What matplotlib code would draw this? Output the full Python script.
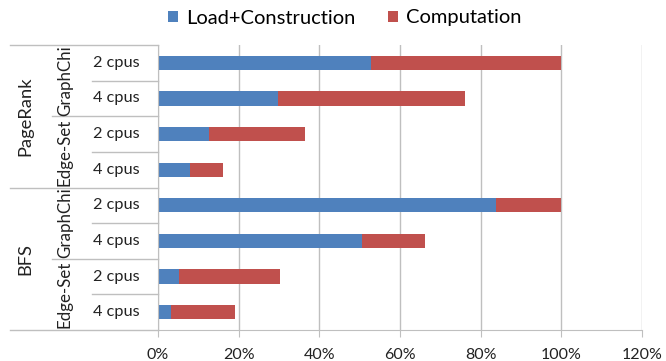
import matplotlib
matplotlib.use("Agg")
import matplotlib.pyplot as plt
from matplotlib.transforms import blended_transform_factory

plt.rcParams["font.family"] = ["Lato", "DejaVu Sans"]

algorithms = ["PageRank", "BFS"]
systems = ["GraphChi", "Edge-Set"]
cpus = ["2 cpus", "4 cpus"]

# fraction of total time, one entry per row (top to bottom)
load_construction = [0.527, 0.298, 0.126, 0.080, 0.838, 0.505, 0.051, 0.031]
computation = [0.473, 0.462, 0.239, 0.081, 0.162, 0.156, 0.252, 0.161]

blue = "#4F81BD"
red = "#C0504D"
line_gray = "#bfbfbf"
text_col = "#222222"

fig = plt.figure(figsize=(6.66, 3.61), dpi=100)
ax = fig.add_axes([158 / 666, 1 - 330 / 361, 484 / 666, 285 / 361])

rows = list(range(len(load_construction)))
ax.barh(rows, load_construction, height=0.4, color=blue, label="Load+Construction")
ax.barh(rows, computation, left=load_construction, height=0.4, color=red, label="Computation")

ax.set_xlim(0, 1.2)
ax.set_ylim(len(rows) - 0.5, -0.5)
ax.set_xticks([i * 0.2 for i in range(7)])
ax.set_xticklabels([f"{i * 20}%" for i in range(7)], fontsize=11.5, color=text_col)
ax.set_yticks([])
ax.grid(axis="x", color=line_gray, lw=1)
ax.set_axisbelow(True)
ax.tick_params(axis="x", length=5, color=line_gray, pad=8)
for s in ["top", "right"]:
    ax.spines[s].set_visible(False)
ax.spines["left"].set_color(line_gray)
ax.spines["bottom"].set_color(line_gray)

# hierarchical category axis
tr = blended_transform_factory(fig.transFigure, ax.transData)
x_axis = 158 / 666
for k in range(len(rows) + 1):
    b = k - 0.5
    if k % 4 == 0:
        x0 = 10 / 666
    elif k % 2 == 0:
        x0 = 52 / 666
    else:
        x0 = 92 / 666
    ax.plot([x0, x_axis], [b, b], transform=tr, color=line_gray, lw=1, clip_on=False)

for r in rows:
    ax.text(116 / 666, r, cpus[r % 2], transform=tr, ha="center", va="center",
            fontsize=11.7, color=text_col)
for g in range(4):
    ax.text(65 / 666, 2 * g + 0.5, systems[g % 2], transform=tr, ha="center", va="center",
            rotation=90, fontsize=12.2, color=text_col)
for a in range(2):
    ax.text(25 / 666, 4 * a + 1.5, algorithms[a], transform=tr, ha="center", va="center",
            rotation=90, fontsize=13.2, color=text_col)

fig.legend(loc="center left", bbox_to_anchor=(168 / 666, 1 - 18 / 361),
           bbox_transform=fig.transFigure, ncol=2, frameon=False,
           fontsize=14.5, handlelength=0.5, handleheight=0.5, handletextpad=0.4,
           columnspacing=1.59, borderpad=0, borderaxespad=0)

fig.savefig("out.png", dpi=100)
